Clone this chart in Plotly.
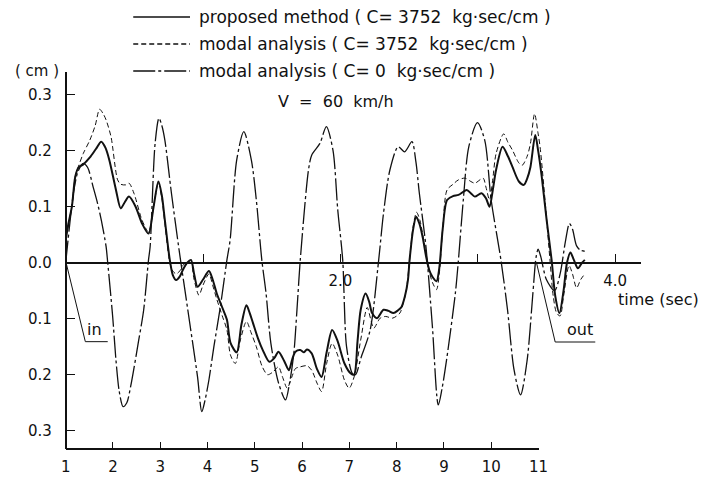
import plotly.graph_objects as go

# ---------------- data ----------------
t_prop = [0.0, 0.02, 0.045, 0.07, 0.093, 0.13, 0.176, 0.22, 0.259, 0.29, 0.318, 0.366, 0.401, 0.43, 0.461,
          0.509, 0.556, 0.603, 0.64, 0.675, 0.70, 0.722, 0.758, 0.78, 0.805, 0.83, 0.853, 0.885, 0.912, 0.935,
          0.96, 1.0, 1.043, 1.07, 1.10, 1.14, 1.174, 1.20, 1.245, 1.28, 1.316, 1.34, 1.364, 1.40, 1.435, 1.483,
          1.52, 1.549, 1.59, 1.625, 1.65, 1.673, 1.708, 1.735, 1.756, 1.791, 1.83, 1.863, 1.90, 1.94, 1.98,
          2.03, 2.076, 2.1, 2.125, 2.148, 2.184, 2.21, 2.231, 2.267, 2.314, 2.35, 2.386, 2.42, 2.445, 2.47,
          2.492, 2.504, 2.53, 2.552, 2.575, 2.599, 2.625, 2.647, 2.67, 2.70, 2.72, 2.745, 2.777, 2.82, 2.86,
          2.92, 2.95, 2.979, 3.027, 3.06, 3.086, 3.11, 3.134, 3.181, 3.22, 3.253, 3.30, 3.336, 3.36, 3.384,
          3.419, 3.44, 3.466, 3.502, 3.538, 3.565, 3.595, 3.625, 3.65, 3.675, 3.70, 3.73, 3.76, 3.78]
v_prop = [0.04, 0.07, 0.10, 0.154, 0.170, 0.176, 0.188, 0.203, 0.216, 0.205, 0.183, 0.13, 0.097, 0.108, 0.118,
          0.10, 0.07, 0.052, 0.10, 0.145, 0.12, 0.076, 0.005, -0.022, -0.031, -0.025, -0.013, 0.0, 0.005, -0.02,
          -0.043, -0.03, -0.015, -0.03, -0.055, -0.08, -0.102, -0.143, -0.16, -0.11, -0.076, -0.09, -0.108,
          -0.135, -0.156, -0.177, -0.17, -0.159, -0.175, -0.192, -0.172, -0.159, -0.156, -0.16, -0.155, -0.162,
          -0.19, -0.204, -0.16, -0.12, -0.14, -0.18, -0.198, -0.2, -0.14, -0.084, -0.055, -0.07, -0.09, -0.099,
          -0.084, -0.086, -0.09, -0.085, -0.079, -0.06, -0.031, 0.005, 0.06, 0.082, 0.07, 0.046, 0.01, -0.013,
          -0.025, -0.033, -0.01, 0.06, 0.112, 0.119, 0.121, 0.13, 0.124, 0.118, 0.124, 0.115, 0.10, 0.13,
          0.166, 0.207, 0.19, 0.171, 0.145, 0.139, 0.15, 0.171, 0.228, 0.2, 0.154, 0.076, 0.005, -0.06, -0.09,
          -0.05, 0.0, 0.018, 0.005, -0.01, 0.0, 0.005]

t_modal = [0.0, 0.02, 0.045, 0.07, 0.093, 0.128, 0.176, 0.215, 0.247, 0.275, 0.294, 0.33, 0.378, 0.401,
           0.437, 0.461, 0.497, 0.556, 0.603, 0.64, 0.675, 0.70, 0.722, 0.758, 0.78, 0.805, 0.83, 0.853, 0.885,
           0.912, 0.935, 0.97, 1.0, 1.043, 1.07, 1.10, 1.14, 1.174, 1.20, 1.235, 1.27, 1.316, 1.35, 1.388, 1.43,
           1.47, 1.51, 1.549, 1.58, 1.613, 1.645, 1.673, 1.708, 1.756, 1.791, 1.83, 1.863, 1.90, 1.94, 1.98,
           2.03, 2.064, 2.10, 2.148, 2.195, 2.22, 2.243, 2.29, 2.33, 2.38, 2.433, 2.46, 2.48, 2.504, 2.53, 2.555,
           2.58, 2.60, 2.647, 2.67, 2.70, 2.72, 2.745, 2.777, 2.82, 2.86, 2.908, 2.95, 2.98, 3.039, 3.06, 3.086,
           3.11, 3.134, 3.189, 3.22, 3.253, 3.30, 3.324, 3.36, 3.384, 3.414, 3.44, 3.454, 3.49, 3.526, 3.55,
           3.575, 3.60, 3.625, 3.665, 3.69, 3.72, 3.75, 3.78]
v_modal = [0.04, 0.07, 0.10, 0.154, 0.172, 0.195, 0.219, 0.245, 0.274, 0.265, 0.255, 0.225, 0.148, 0.14,
           0.139, 0.142, 0.124, 0.076, 0.055, 0.10, 0.143, 0.115, 0.07, 0.0, -0.015, -0.02, -0.015, -0.005,
           0.002, 0.0, -0.03, -0.058, -0.04, -0.02, -0.04, -0.065, -0.095, -0.12, -0.165, -0.18, -0.14, -0.105,
           -0.125, -0.15, -0.185, -0.2, -0.195, -0.186, -0.205, -0.224, -0.205, -0.189, -0.186, -0.184, -0.192,
           -0.215, -0.23, -0.18, -0.144, -0.165, -0.21, -0.224, -0.204, -0.138, -0.08, -0.1, -0.117, -0.099,
           -0.096, -0.099, -0.09, -0.07, -0.049, 0.005, 0.065, 0.09, 0.075, 0.05, -0.015, -0.035, -0.048, -0.02,
           0.06, 0.13, 0.14, 0.148, 0.151, 0.145, 0.142, 0.151, 0.135, 0.112, 0.15, 0.195, 0.23, 0.215, 0.201,
           0.178, 0.174, 0.19, 0.213, 0.266, 0.23, 0.207, 0.112, 0.005, -0.06, -0.09, -0.095, -0.06, -0.005,
           -0.02, -0.045, -0.03, -0.02]

t_undamped = [0.0, 0.03, 0.06, 0.09, 0.128, 0.16, 0.20, 0.232, 0.26, 0.294, 0.306, 0.342, 0.366, 0.39, 0.418,
              0.445, 0.473, 0.532, 0.568, 0.603, 0.615, 0.651, 0.679, 0.70, 0.722, 0.77, 0.829, 0.889, 0.96,
              0.991, 1.015, 1.043, 1.079, 1.126, 1.174, 1.197, 1.245, 1.297, 1.352, 1.388, 1.428, 1.459, 1.494,
              1.55, 1.601, 1.63, 1.661, 1.684, 1.708, 1.768, 1.791, 1.851, 1.898, 1.946, 1.981, 2.017, 2.045,
              2.088, 2.11, 2.15, 2.217, 2.279, 2.314, 2.361, 2.421, 2.468, 2.521, 2.55, 2.575, 2.623,
              2.67, 2.713, 2.74, 2.773, 2.837, 2.858, 2.895, 2.935, 2.998, 3.051, 3.098, 3.169, 3.217, 3.265,
              3.312, 3.36, 3.40, 3.425, 3.44, 3.46, 3.50, 3.56, 3.60, 3.64, 3.668, 3.69, 3.72, 3.75, 3.80]
v_undamped = [0.0, 0.07, 0.13, 0.163, 0.1775, 0.17, 0.135, 0.106, 0.075, 0.029, 0.0, -0.096, -0.174, -0.23,
              -0.257, -0.25, -0.221, -0.138, -0.084, 0.005, 0.029, 0.213, 0.258, 0.245, 0.219, 0.124, 0.017,
              -0.084, -0.204, -0.266, -0.245, -0.209, -0.15, -0.079, 0.005, 0.04, 0.183, 0.234, 0.183, 0.112,
              0.005, -0.055, -0.144, -0.215, -0.245, -0.215, -0.162, -0.084, 0.005, 0.166, 0.192, 0.213, 0.243,
              0.201, 0.094, 0.005, -0.15, -0.198, -0.2, -0.17, -0.12, 0.005, 0.088, 0.166, 0.207,
              0.198, 0.216, 0.18, 0.124, 0.029, -0.114, -0.254, -0.225, -0.174, -0.055, 0.0, 0.112, 0.207, 0.25,
              0.219, 0.112, 0.005, -0.084, -0.192, -0.236, -0.174, -0.06, 0.01, 0.024, 0.01, -0.03, -0.05, -0.02,
              0.04, 0.07, 0.06, 0.03, 0.022, 0.02]

stations = [1, 2, 3, 4, 5, 6, 7, 8, 9, 10, 11]
station_labels = ["1", "2", "3", "4", "5", "6", "7", "8", "9", "10", "11"]
y_ticks = [-0.3, -0.2, -0.1, 0.0, 0.1, 0.2, 0.3]
y_tick_labels = ["0.3", "0.2", "0.1", "0.0", "0.1", "0.2", "0.3"]
t_ticks = [1, 2, 3, 4]
t_tick_labels = ["", "2.0", "", "4.0"]

in_ptr_t = [0.007, 0.143, 0.306]
in_ptr_v = [-0.004, -0.141, -0.141]
out_ptr_t = [3.428, 3.564, 3.856]
out_ptr_v = [0.0, -0.1416, -0.1416]

legend_names = ["proposed method ( C= 3752  kg·sec/cm )",
                "modal analysis ( C= 3752  kg·sec/cm )",
                "modal analysis ( C= 0  kg·sec/cm )"]

# ---------------- layout geometry ----------------
W, H = 711, 478
X0, XEND = 62, 650          # pixel of t=0 and end of time axis
PX_PER_S = 140.3
Y_TOP, Y_BOT, Y_ZERO = 72, 449, 262.7
PX_PER_CM = 560.0

def fx(px):
    return px / W

def fy(py):
    return (H - py) / H

x_range = [0, (XEND - X0) / PX_PER_S]
y_range = [(Y_ZERO - Y_BOT) / PX_PER_CM, (Y_ZERO - Y_TOP) / PX_PER_CM]

INK = "#111111"
FONT = "DejaVu Sans"

fig = go.Figure()

line_styles = [
    dict(color=INK, width=2.0, dash="solid"),
    dict(color=INK, width=1.0, dash="5px,3px"),
    dict(color=INK, width=1.3, dash="22px,3px,3px,3px"),
]

for tt, vv, st, nm in [(t_prop, v_prop, line_styles[0], legend_names[0]),
                       (t_modal, v_modal, line_styles[1], legend_names[1]),
                       (t_undamped, v_undamped, line_styles[2], legend_names[2])]:
    fig.add_trace(go.Scatter(x=tt, y=vv, mode="lines", name=nm,
                             line=dict(shape="spline", smoothing=0.8, **st),
                             showlegend=False, hoverinfo="skip"))

for pt, pv in [(in_ptr_t, in_ptr_v), (out_ptr_t, out_ptr_v)]:
    fig.add_trace(go.Scatter(x=pt, y=pv, mode="lines", line=dict(color=INK, width=1),
                             showlegend=False, hoverinfo="skip"))

# invisible trace that carries the station axis
fig.add_trace(go.Scatter(x=stations, y=[-5] * len(stations), xaxis="x2", yaxis="y",
                         mode="markers", marker=dict(opacity=0), showlegend=False, hoverinfo="skip"))

fig.update_layout(
    width=W, height=H,
    margin=dict(l=0, r=0, t=0, b=0),
    paper_bgcolor="white", plot_bgcolor="rgba(0,0,0,0)",
    font=dict(family=FONT, color=INK, size=14),
    xaxis=dict(domain=[fx(X0), fx(XEND)], range=x_range, anchor="free", position=fy(Y_ZERO),
               showline=True, linecolor=INK, linewidth=1.6, ticks="inside", ticklen=8,
               tickcolor=INK, tickwidth=1.2, tickvals=t_ticks, ticktext=t_tick_labels,
               showgrid=False, zeroline=False, tickfont=dict(size=15), ticklabelstandoff=4),
    xaxis2=dict(domain=[fx(X0), fx(545)], range=[1, 11], anchor="free", position=fy(Y_BOT),
                showline=True, linecolor=INK, linewidth=1.6, ticks="inside", ticklen=6,
                tickcolor=INK, tickwidth=1.2, tickvals=stations, ticktext=station_labels,
                showgrid=False, zeroline=False, tickfont=dict(size=15), ticklabelstandoff=4),
    yaxis=dict(domain=[fy(Y_BOT), fy(Y_TOP)], range=y_range, anchor="free", position=fx(X0),
               showline=True, linecolor=INK, linewidth=1.8, ticks="inside", ticklen=8,
               tickcolor=INK, tickwidth=1.2, tickvals=y_ticks, ticktext=y_tick_labels,
               showgrid=False, zeroline=False, tickfont=dict(size=15), ticklabelstandoff=10),
)

# legend (manual)
legend_rows = [17, 44, 71]
for row_y, st, nm in zip(legend_rows, line_styles, legend_names):
    fig.add_shape(type="line", xref="paper", yref="paper",
                  x0=fx(131), x1=fx(189), y0=fy(row_y), y1=fy(row_y),
                  line=dict(color=INK, width=1.3 if st["dash"] != "solid" else 1.6, dash=st["dash"]))
    fig.add_annotation(xref="paper", yref="paper", x=fx(196), y=fy(row_y), text=nm,
                       showarrow=False, xanchor="left", yanchor="middle",
                       font=dict(size=17, family=FONT, color=INK))

texts = [
    ("( cm )", 33, 71, "center", 15),
    ("V  =  60  km/h", 338, 102, "center", 16),
    ("time (sec)", 711, 299, "right", 16),
]
for txt, px, py, anc, sz in texts:
    fig.add_annotation(xref="paper", yref="paper", x=fx(px), y=fy(py), text=txt,
                       showarrow=False, xanchor=anc, yanchor="middle",
                       font=dict(size=sz, family=FONT, color=INK))

fig.add_annotation(x=in_ptr_t[1] - 0.005, y=in_ptr_v[1], text="in", showarrow=False,
                   xanchor="left", yanchor="bottom", yshift=1, font=dict(size=16, family=FONT, color=INK))
fig.add_annotation(x=out_ptr_t[1] + 0.07, y=out_ptr_v[1], text="out", showarrow=False,
                   xanchor="left", yanchor="bottom", yshift=1, font=dict(size=16, family=FONT, color=INK))

fig.write_html("out.html")
